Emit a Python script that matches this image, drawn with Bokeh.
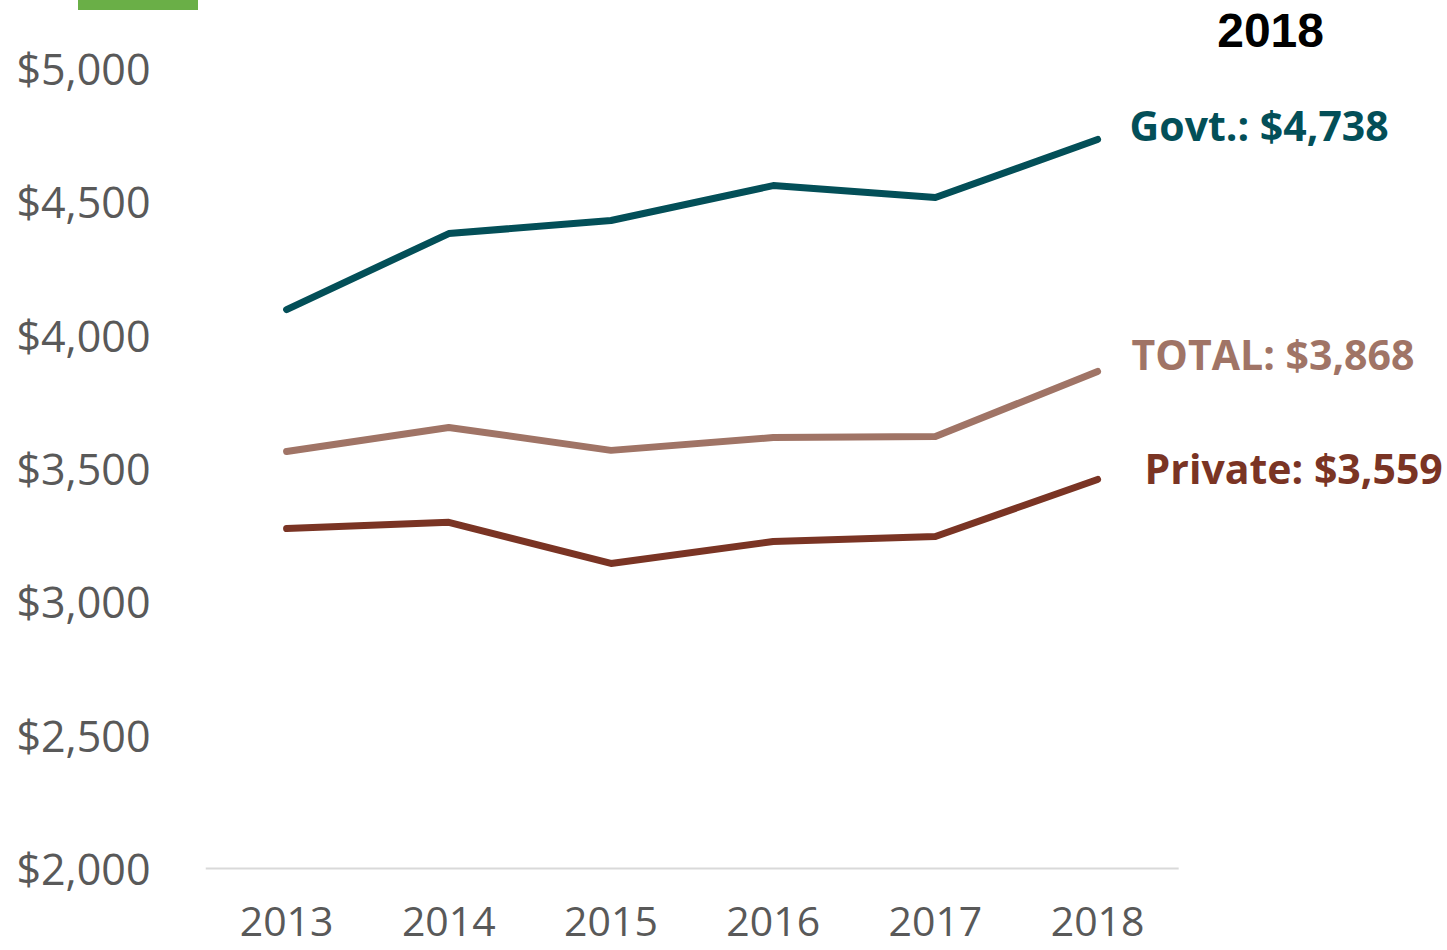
from bokeh.plotting import figure
from bokeh.layouts import column
from bokeh.models import Range1d, FixedTicker, NumeralTickFormatter, Label, Div
from bokeh.embed import file_html
from bokeh.resources import INLINE

years = [2013, 2014, 2015, 2016, 2017, 2018]
govt = [4096, 4381, 4430, 4561, 4516, 4734]
total = [3564, 3654, 3568, 3616, 3620, 3864]
private = [3275, 3298, 3144, 3226, 3245, 3459]
y_ticks = [2000, 2500, 3000, 3500, 4000, 4500, 5000]
end_labels = ["Govt.: $4,738", "TOTAL: $3,868", "Private: $3,559"]
header = "2018"

colors = ["#034F58", "#A07466", "#7A3424"]

p = figure(width=1445, height=948, output_backend="svg", toolbar_location=None,
           x_range=Range1d(2012.5, 2020.145), y_range=Range1d(1992.5, 5255),
           min_border_left=205, min_border_right=0, min_border_top=0,
           min_border_bottom=78)
p.outline_line_color = None
p.xgrid.visible = False
p.ygrid.visible = False

p.yaxis.ticker = FixedTicker(ticks=y_ticks)
p.yaxis.formatter = NumeralTickFormatter(format="$0,0")
p.yaxis.axis_line_color = None
p.yaxis.major_tick_line_color = None
p.yaxis.minor_tick_line_color = None
p.yaxis.major_label_text_font = "Open Sans"
p.yaxis.major_label_text_font_size = "43px"
p.yaxis.major_label_text_color = "#595959"
p.yaxis.major_label_standoff = 49

p.xaxis.ticker = FixedTicker(ticks=years)
p.xaxis.axis_line_color = None
p.xaxis.major_tick_line_color = None
p.xaxis.minor_tick_line_color = None
p.xaxis.major_label_text_font = "Open Sans"
p.xaxis.major_label_text_font_size = "41px"
p.xaxis.major_label_text_color = "#595959"
p.xaxis.major_label_text_line_height = 0.7
p.xaxis.major_label_standoff = 30

# baseline (category axis line) spanning only the year slots
p.segment(x0=[years[0] - 0.5], y0=[y_ticks[0]], x1=[years[-1] + 0.5], y1=[y_ticks[0]],
          line_color="#D9D9D9", line_width=2)

for series, c in zip([govt, total, private], colors):
    p.line(years, series, line_color=c, line_width=7, line_cap="round", line_join="round")

label_y = [govt[-1], total[-1], private[-1]]
x_offs = [32, 34, 47]
y_offs = [14, 17, 11]
for txt, yv, c, xo, yo in zip(end_labels, label_y, colors, x_offs, y_offs):
    p.add_layout(Label(x=years[-1], y=yv, text=txt, x_offset=xo, y_offset=yo,
                       text_baseline="middle", text_align="left",
                       text_font="Open Sans", text_font_style="bold",
                       text_font_size="41px", text_color=c))

p.add_layout(Label(x=years[-1], y=y_ticks[-1], text=header, x_offset=173, y_offset=38,
                   text_baseline="middle", text_align="center",
                   text_font="Liberation Sans", text_font_style="bold",
                   text_font_size="48px", text_color="#000000"))

bar = Div(text="", width=120, height=10, margin=(0, 0, -10, 78),
          styles={"background-color": "#6AAF47", "position": "relative", "z-index": "10"})

layout = column(bar, p, spacing=0)
open("out.html", "w").write(file_html(layout, INLINE))
